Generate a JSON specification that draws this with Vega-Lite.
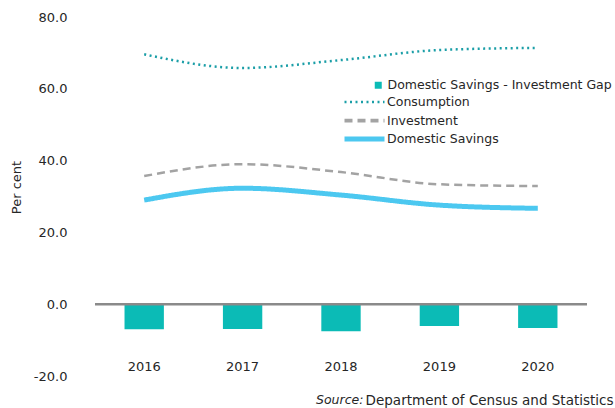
{
  "$schema": "https://vega.github.io/schema/vega-lite/v6.json",
  "width": 492,
  "height": 359,
  "autosize": {"type": "none"},
  "padding": {"left": 95, "top": 17, "right": 28, "bottom": 32},
  "background": "white",
  "config": {
    "view": {"stroke": null},
    "font": "DejaVu Sans",
    "legend": {"padding": 0, "labelFont": "DejaVu Sans", "labelFontSize": 12.5, "labelColor": "#262626", "labelLimit": 400}
  },
  "title": {
    "text": "Source:",
    "orient": "none",
    "anchor": "start",
    "frame": "group",
    "fontStyle": "italic",
    "fontWeight": "normal",
    "fontSize": 12.5,
    "color": "#262626",
    "dx": 221,
    "dy": 377
  },
  "datasets": {
    "gap": [
      {"year": "2016", "series": "Domestic Savings - Investment Gap", "value": -7.0},
      {"year": "2017", "series": "Domestic Savings - Investment Gap", "value": -6.9},
      {"year": "2018", "series": "Domestic Savings - Investment Gap", "value": -7.5},
      {"year": "2019", "series": "Domestic Savings - Investment Gap", "value": -6.1},
      {"year": "2020", "series": "Domestic Savings - Investment Gap", "value": -6.6}
    ],
    "zero": [{"zero": 0}],
    "lines": [
      {"year": "2016", "series": "Consumption", "value": 69.6},
      {"year": "2017", "series": "Consumption", "value": 65.8},
      {"year": "2018", "series": "Consumption", "value": 68.0},
      {"year": "2019", "series": "Consumption", "value": 70.8},
      {"year": "2020", "series": "Consumption", "value": 71.4},
      {"year": "2016", "series": "Investment", "value": 35.7},
      {"year": "2017", "series": "Investment", "value": 39.0},
      {"year": "2018", "series": "Investment", "value": 36.8},
      {"year": "2019", "series": "Investment", "value": 33.4},
      {"year": "2020", "series": "Investment", "value": 32.9}
    ],
    "savings": [
      {"year": "2016", "series": "Domestic  Savings", "value": 29.0},
      {"year": "2017", "series": "Domestic  Savings", "value": 32.3},
      {"year": "2018", "series": "Domestic  Savings", "value": 30.4},
      {"year": "2019", "series": "Domestic  Savings", "value": 27.6},
      {"year": "2020", "series": "Domestic  Savings", "value": 26.7}
    ]
  },
  "layer": [
    {
      "data": {"name": "gap"},
      "mark": {"type": "bar"},
      "encoding": {
        "x": {
          "field": "year",
          "type": "ordinal",
          "scale": {"paddingInner": 0.6, "paddingOuter": 0.3},
          "axis": {
            "orient": "bottom",
            "offset": -18,
            "domain": false,
            "ticks": false,
            "labelAngle": 0,
            "labelPadding": 2,
            "labelFont": "DejaVu Sans",
            "labelFontSize": 13,
            "labelColor": "#262626",
            "title": "Department of Census and Statistics",
            "titleFont": "DejaVu Sans",
            "titleFontSize": 13.5,
            "titleFontWeight": "normal",
            "titleColor": "#262626",
            "titleAlign": "right",
            "titleAnchor": "end",
            "titleBaseline": "alphabetic",
            "titleX": 518,
            "titleY": 46
          }
        },
        "y": {
          "field": "value",
          "type": "quantitative",
          "scale": {"domain": [-20, 80], "nice": false},
          "axis": {
            "values": [-20, 0, 20, 40, 60, 80],
            "labelExpr": "replace(format(datum.value, '.1f'), '\u2212', '-')",
            "domain": false,
            "ticks": false,
            "grid": false,
            "labelPadding": 28,
            "labelFont": "DejaVu Sans",
            "labelFontSize": 13,
            "labelColor": "#262626",
            "title": "Per cent",
            "titleFont": "DejaVu Sans",
            "titleFontSize": 13,
            "titleFontWeight": "normal",
            "titleColor": "#262626",
            "titleX": -79,
            "titleY": 170,
            "titleAngle": -90,
            "titleAlign": "center",
            "titleBaseline": "middle"
          }
        },
        "fill": {
          "field": "series",
          "type": "nominal",
          "scale": {"range": ["#0bbbb6"]},
          "legend": {
            "title": null,
            "orient": "none",
            "legendX": 277,
            "legendY": 62,
            "symbolType": "square",
            "symbolSize": 49,
            "labelOffset": 3
          }
        }
      }
    },
    {
      "data": {"name": "zero"},
      "mark": {"type": "rule", "color": "#8a8a8a", "strokeWidth": 2.5},
      "encoding": {
        "y": {"field": "zero", "type": "quantitative"}
      }
    },
    {
      "data": {"name": "lines"},
      "mark": {"type": "line", "interpolate": "monotone", "strokeCap": "butt", "strokeWidth": 2.5},
      "encoding": {
        "x": {"field": "year", "type": "ordinal"},
        "y": {"field": "value", "type": "quantitative"},
        "stroke": {
          "field": "series",
          "type": "nominal",
          "scale": {"domain": ["Consumption", "Investment", "Domestic  Savings"], "range": ["#1a9ea7", "#a3a3a3", "#4cc8f0"]},
          "legend": {"title": null, "orient": "none", "legendX": 247, "legendY": 77, "symbolType": "stroke", "symbolSize": 1600, "clipHeight": 16, "rowPadding": 2.5, "labelOffset": 0}
        },
        "strokeDash": {
          "field": "series",
          "type": "nominal",
          "scale": {"domain": ["Consumption", "Investment", "Domestic  Savings"], "range": [[2, 3.5], [8, 5], [1, 0]]},
          "legend": {"title": null, "orient": "none", "legendX": 247, "legendY": 77, "symbolType": "stroke", "symbolSize": 1600, "clipHeight": 16, "rowPadding": 2.5, "labelOffset": 0}
        }
      }
    },
    {
      "data": {"name": "savings"},
      "mark": {"type": "line", "interpolate": "monotone", "strokeCap": "butt"},
      "encoding": {
        "x": {"field": "year", "type": "ordinal"},
        "y": {"field": "value", "type": "quantitative"},
        "stroke": {
          "field": "series",
          "type": "nominal",
          "scale": {"domain": ["Consumption", "Investment", "Domestic  Savings"], "range": ["#1a9ea7", "#a3a3a3", "#4cc8f0"]},
          "legend": {"title": null, "orient": "none", "legendX": 247, "legendY": 77, "symbolType": "stroke", "symbolSize": 1600, "clipHeight": 16, "rowPadding": 2.5, "labelOffset": 0}
        },
        "strokeDash": {
          "field": "series",
          "type": "nominal",
          "scale": {"domain": ["Consumption", "Investment", "Domestic  Savings"], "range": [[2, 3.5], [8, 5], [1, 0]]},
          "legend": {"title": null, "orient": "none", "legendX": 247, "legendY": 77, "symbolType": "stroke", "symbolSize": 1600, "clipHeight": 16, "rowPadding": 2.5, "labelOffset": 0}
        },
        "strokeWidth": {
          "field": "series",
          "type": "ordinal",
          "scale": {"domain": ["Consumption", "Investment", "Domestic  Savings"], "range": [2.5, 5]},
          "legend": {"title": null, "orient": "none", "legendX": 247, "legendY": 77, "symbolType": "stroke", "symbolSize": 1600, "clipHeight": 16, "rowPadding": 2.5, "labelOffset": 0}
        }
      }
    }
  ]
}
